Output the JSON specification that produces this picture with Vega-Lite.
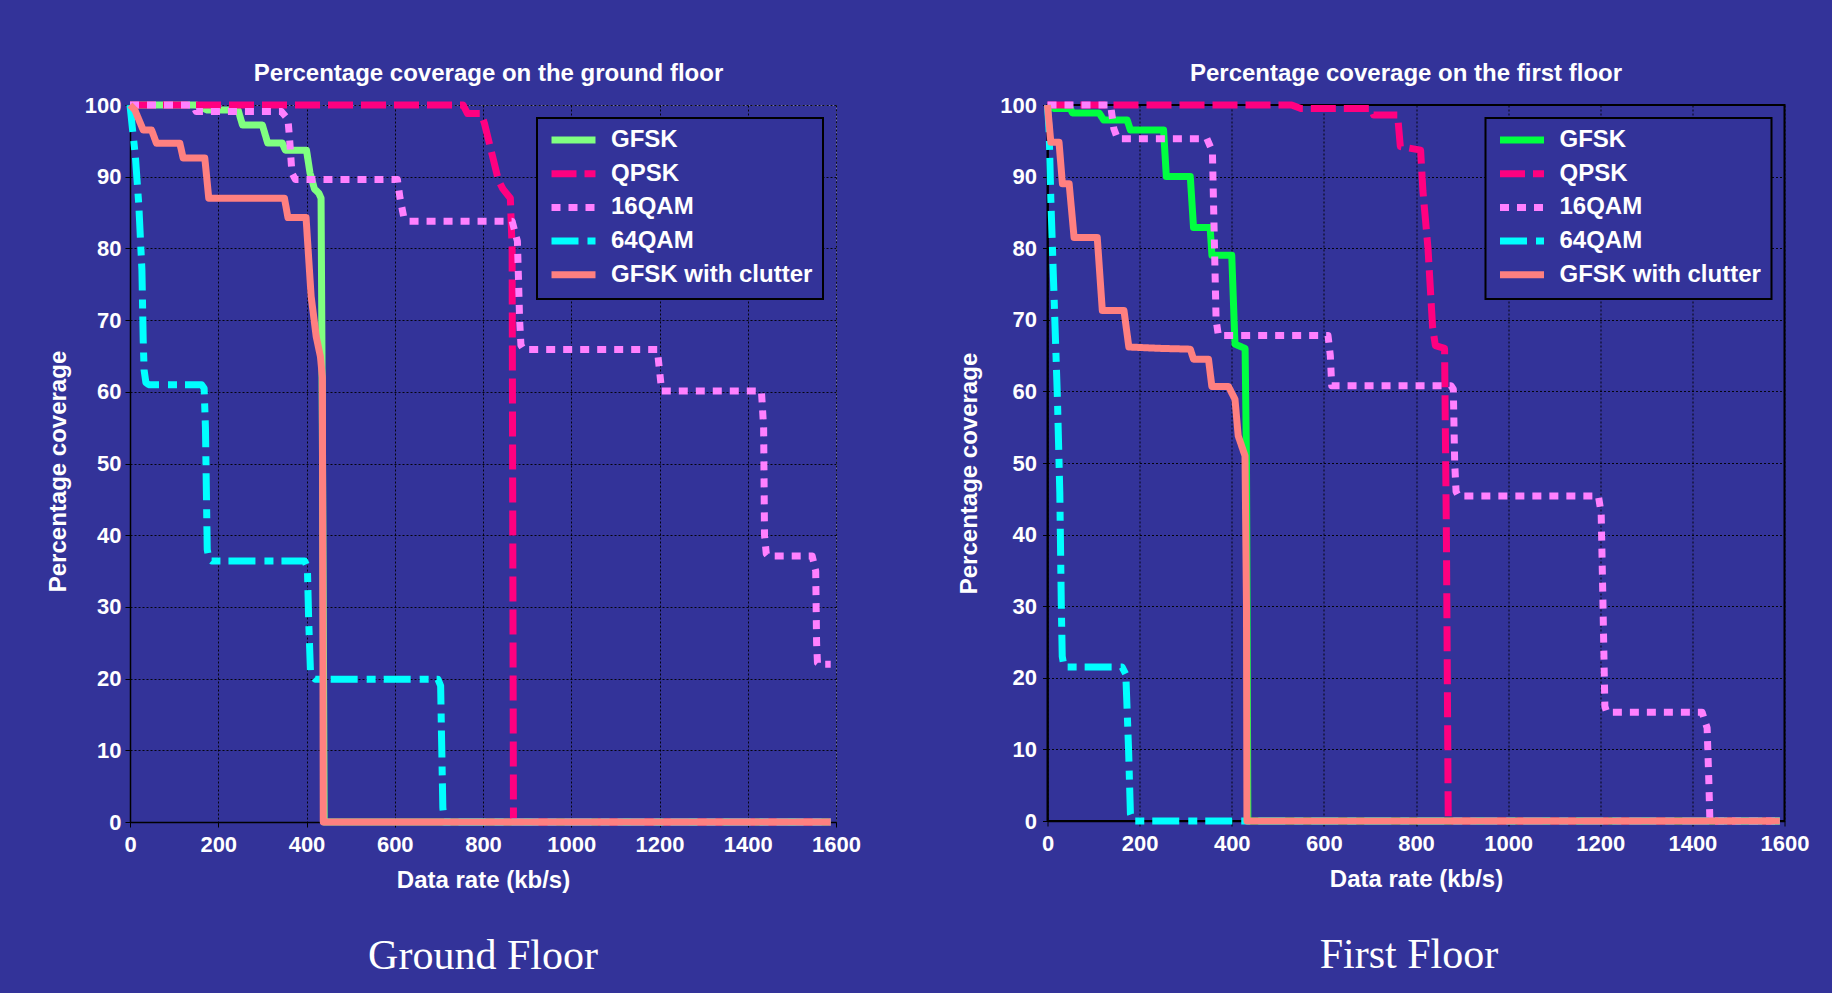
{
  "$schema": "https://vega.github.io/schema/vega-lite/v6.json",
  "background": "#333399",
  "padding": {"left": 45, "top": 60, "right": 25, "bottom": 20},
  "spacing": 95.5,
  "config": {
    "font": "Liberation Sans",
    "view": {"stroke": null},
    "axis": {
      "labelColor": "white", "labelFont": "Liberation Sans", "labelFontWeight": "bold", "labelFontSize": 22, "labelFlush": false,
      "titleColor": "white", "titleFont": "Liberation Sans", "titleFontWeight": "bold", "titleFontSize": 24,
      "gridColor": "black", "gridDash": [2, 2], "gridWidth": 1, "gridOpacity": 0.9,
      "domainColor": "black", "domainWidth": 1.5, "tickColor": "black", "tickSize": 5
    },
    "axisX": {"labelPadding": 7, "titlePadding": 13},
    "legend": {
      "orient": "top-right", "offset": 13, "fillColor": "#333399", "strokeColor": "black", "strokeWidth": 2,
      "padding": 10, "labelColor": "white", "labelFont": "Liberation Sans", "labelFontWeight": "bold", "labelFontSize": 24,
      "labelLimit": 400,
      "symbolType": "M-4.4,0H4.4", "symbolSize": 100, "symbolStrokeWidth": 7, "symbolOffset": 14.5,
      "rowPadding": 5.7, "labelOffset": 25.5
    },
    "title": {"color": "white", "font": "Liberation Sans", "fontSize": 24, "fontWeight": "bold"}
  },
  "resolve": {"scale": {"color": "independent", "strokeDash": "independent"}},
  "datasets": {
    "ground": [
      {"s": "GFSK", "x": 0, "y": 100}, {"s": "GFSK", "x": 150, "y": 100}, {"s": "GFSK", "x": 175, "y": 99.3}, {"s": "GFSK", "x": 245, "y": 99.3},
      {"s": "GFSK", "x": 255, "y": 97.2}, {"s": "GFSK", "x": 300, "y": 97.2}, {"s": "GFSK", "x": 312, "y": 94.7}, {"s": "GFSK", "x": 345, "y": 94.7},
      {"s": "GFSK", "x": 352, "y": 93.7}, {"s": "GFSK", "x": 400, "y": 93.7}, {"s": "GFSK", "x": 408, "y": 90.5}, {"s": "GFSK", "x": 418, "y": 88.3},
      {"s": "GFSK", "x": 428, "y": 87.7}, {"s": "GFSK", "x": 433, "y": 87}, {"s": "GFSK", "x": 435, "y": 66}, {"s": "GFSK", "x": 438, "y": 30},
      {"s": "GFSK", "x": 440, "y": 0}, {"s": "GFSK", "x": 1588, "y": 0},
      {"s": "QPSK", "x": 0, "y": 100}, {"s": "QPSK", "x": 755, "y": 100}, {"s": "QPSK", "x": 765, "y": 98.8}, {"s": "QPSK", "x": 795, "y": 98.8},
      {"s": "QPSK", "x": 803, "y": 97.5}, {"s": "QPSK", "x": 835, "y": 89.5}, {"s": "QPSK", "x": 845, "y": 88.3}, {"s": "QPSK", "x": 862, "y": 87},
      {"s": "QPSK", "x": 866, "y": 80}, {"s": "QPSK", "x": 869, "y": 0}, {"s": "QPSK", "x": 1588, "y": 0},
      {"s": "16QAM", "x": 0, "y": 100}, {"s": "16QAM", "x": 143, "y": 100}, {"s": "16QAM", "x": 150, "y": 99.1}, {"s": "16QAM", "x": 343, "y": 99.1},
      {"s": "16QAM", "x": 358, "y": 98}, {"s": "16QAM", "x": 362, "y": 95}, {"s": "16QAM", "x": 367, "y": 90.5}, {"s": "16QAM", "x": 375, "y": 89.6},
      {"s": "16QAM", "x": 606, "y": 89.6}, {"s": "16QAM", "x": 612, "y": 87}, {"s": "16QAM", "x": 620, "y": 84.5}, {"s": "16QAM", "x": 632, "y": 83.8},
      {"s": "16QAM", "x": 866, "y": 83.8}, {"s": "16QAM", "x": 878, "y": 81}, {"s": "16QAM", "x": 883, "y": 70}, {"s": "16QAM", "x": 886, "y": 66.5},
      {"s": "16QAM", "x": 892, "y": 65.9}, {"s": "16QAM", "x": 1195, "y": 65.9}, {"s": "16QAM", "x": 1200, "y": 63}, {"s": "16QAM", "x": 1205, "y": 60.1},
      {"s": "16QAM", "x": 1431, "y": 60.1}, {"s": "16QAM", "x": 1436, "y": 55}, {"s": "16QAM", "x": 1438, "y": 40}, {"s": "16QAM", "x": 1442, "y": 37.4},
      {"s": "16QAM", "x": 1446, "y": 37.1}, {"s": "16QAM", "x": 1546, "y": 37.1}, {"s": "16QAM", "x": 1554, "y": 35}, {"s": "16QAM", "x": 1556, "y": 25},
      {"s": "16QAM", "x": 1558, "y": 22.2}, {"s": "16QAM", "x": 1562, "y": 22}, {"s": "16QAM", "x": 1588, "y": 22},
      {"s": "64QAM", "x": 0, "y": 100}, {"s": "64QAM", "x": 5, "y": 97}, {"s": "64QAM", "x": 12, "y": 93}, {"s": "64QAM", "x": 20, "y": 86},
      {"s": "64QAM", "x": 27, "y": 77}, {"s": "64QAM", "x": 30, "y": 67}, {"s": "64QAM", "x": 32, "y": 63}, {"s": "64QAM", "x": 36, "y": 61.3},
      {"s": "64QAM", "x": 42, "y": 61}, {"s": "64QAM", "x": 162, "y": 61}, {"s": "64QAM", "x": 168, "y": 60.5}, {"s": "64QAM", "x": 171, "y": 55},
      {"s": "64QAM", "x": 175, "y": 38}, {"s": "64QAM", "x": 179, "y": 36.7}, {"s": "64QAM", "x": 185, "y": 36.4}, {"s": "64QAM", "x": 396, "y": 36.4},
      {"s": "64QAM", "x": 402, "y": 35.5}, {"s": "64QAM", "x": 405, "y": 28}, {"s": "64QAM", "x": 409, "y": 21}, {"s": "64QAM", "x": 415, "y": 20.2},
      {"s": "64QAM", "x": 420, "y": 19.9}, {"s": "64QAM", "x": 698, "y": 19.9}, {"s": "64QAM", "x": 704, "y": 19}, {"s": "64QAM", "x": 706, "y": 12},
      {"s": "64QAM", "x": 709, "y": 2}, {"s": "64QAM", "x": 712, "y": 0}, {"s": "64QAM", "x": 1588, "y": 0},
      {"s": "GFSK with clutter", "x": 0, "y": 100}, {"s": "GFSK with clutter", "x": 11, "y": 99.3}, {"s": "GFSK with clutter", "x": 30, "y": 96.5},
      {"s": "GFSK with clutter", "x": 49, "y": 96.5}, {"s": "GFSK with clutter", "x": 60, "y": 94.65}, {"s": "GFSK with clutter", "x": 113, "y": 94.65},
      {"s": "GFSK with clutter", "x": 120.5, "y": 92.6}, {"s": "GFSK with clutter", "x": 169.5, "y": 92.6}, {"s": "GFSK with clutter", "x": 178.5, "y": 87},
      {"s": "GFSK with clutter", "x": 350, "y": 87}, {"s": "GFSK with clutter", "x": 358, "y": 84.3}, {"s": "GFSK with clutter", "x": 399, "y": 84.3},
      {"s": "GFSK with clutter", "x": 410.5, "y": 73.3}, {"s": "GFSK with clutter", "x": 422, "y": 67.7}, {"s": "GFSK with clutter", "x": 431.6, "y": 64.9},
      {"s": "GFSK with clutter", "x": 436, "y": 62}, {"s": "GFSK with clutter", "x": 437, "y": 30}, {"s": "GFSK with clutter", "x": 438, "y": 0},
      {"s": "GFSK with clutter", "x": 1588, "y": 0}
    ],
    "first": [
      {"s": "GFSK", "x": 0, "y": 100}, {"s": "GFSK", "x": 15, "y": 99.5}, {"s": "GFSK", "x": 50, "y": 99.5}, {"s": "GFSK", "x": 54, "y": 98.9},
      {"s": "GFSK", "x": 112, "y": 98.9}, {"s": "GFSK", "x": 122, "y": 97.9}, {"s": "GFSK", "x": 173, "y": 97.9}, {"s": "GFSK", "x": 180, "y": 96.5},
      {"s": "GFSK", "x": 252, "y": 96.5}, {"s": "GFSK", "x": 258, "y": 90}, {"s": "GFSK", "x": 310, "y": 90}, {"s": "GFSK", "x": 317, "y": 82.9},
      {"s": "GFSK", "x": 353, "y": 82.9}, {"s": "GFSK", "x": 357, "y": 79}, {"s": "GFSK", "x": 400, "y": 79}, {"s": "GFSK", "x": 407, "y": 66.6},
      {"s": "GFSK", "x": 429, "y": 66}, {"s": "GFSK", "x": 432, "y": 50}, {"s": "GFSK", "x": 435, "y": 0}, {"s": "GFSK", "x": 1590, "y": 0},
      {"s": "QPSK", "x": 0, "y": 100}, {"s": "QPSK", "x": 530, "y": 100}, {"s": "QPSK", "x": 550, "y": 99.5}, {"s": "QPSK", "x": 703, "y": 99.5},
      {"s": "QPSK", "x": 708, "y": 98.6}, {"s": "QPSK", "x": 760, "y": 98.6}, {"s": "QPSK", "x": 766, "y": 94.2}, {"s": "QPSK", "x": 810, "y": 93.7},
      {"s": "QPSK", "x": 815, "y": 88}, {"s": "QPSK", "x": 826, "y": 80}, {"s": "QPSK", "x": 836, "y": 69}, {"s": "QPSK", "x": 842, "y": 66.4},
      {"s": "QPSK", "x": 862, "y": 66}, {"s": "QPSK", "x": 866, "y": 40}, {"s": "QPSK", "x": 870, "y": 0}, {"s": "QPSK", "x": 1590, "y": 0},
      {"s": "16QAM", "x": 0, "y": 100}, {"s": "16QAM", "x": 137, "y": 100}, {"s": "16QAM", "x": 144, "y": 96.7}, {"s": "16QAM", "x": 152, "y": 95.3},
      {"s": "16QAM", "x": 346, "y": 95.3}, {"s": "16QAM", "x": 358, "y": 93.5}, {"s": "16QAM", "x": 366, "y": 70}, {"s": "16QAM", "x": 371, "y": 67.8},
      {"s": "16QAM", "x": 609, "y": 67.8}, {"s": "16QAM", "x": 614, "y": 65}, {"s": "16QAM", "x": 617, "y": 60.8}, {"s": "16QAM", "x": 876, "y": 60.8},
      {"s": "16QAM", "x": 881, "y": 60.3}, {"s": "16QAM", "x": 884, "y": 50}, {"s": "16QAM", "x": 887, "y": 46}, {"s": "16QAM", "x": 892, "y": 45.4},
      {"s": "16QAM", "x": 1196, "y": 45.4}, {"s": "16QAM", "x": 1202, "y": 43}, {"s": "16QAM", "x": 1206, "y": 30}, {"s": "16QAM", "x": 1210, "y": 16},
      {"s": "16QAM", "x": 1214, "y": 15.2}, {"s": "16QAM", "x": 1421, "y": 15.2}, {"s": "16QAM", "x": 1432, "y": 13}, {"s": "16QAM", "x": 1436, "y": 5},
      {"s": "16QAM", "x": 1438, "y": 0}, {"s": "16QAM", "x": 1590, "y": 0},
      {"s": "64QAM", "x": 0, "y": 100}, {"s": "64QAM", "x": 3.6, "y": 96.2}, {"s": "64QAM", "x": 7.2, "y": 86.9}, {"s": "64QAM", "x": 14.4, "y": 72.9},
      {"s": "64QAM", "x": 21.6, "y": 58.9}, {"s": "64QAM", "x": 26.7, "y": 45.9}, {"s": "64QAM", "x": 30, "y": 30}, {"s": "64QAM", "x": 32, "y": 23},
      {"s": "64QAM", "x": 36, "y": 21.5}, {"s": "64QAM", "x": 162, "y": 21.5}, {"s": "64QAM", "x": 170, "y": 20.5}, {"s": "64QAM", "x": 176, "y": 10},
      {"s": "64QAM", "x": 180, "y": 1}, {"s": "64QAM", "x": 186, "y": 0}, {"s": "64QAM", "x": 1590, "y": 0},
      {"s": "GFSK with clutter", "x": 0, "y": 100}, {"s": "GFSK with clutter", "x": 7.2, "y": 94.8}, {"s": "GFSK with clutter", "x": 25, "y": 94.8},
      {"s": "GFSK with clutter", "x": 32.4, "y": 89}, {"s": "GFSK with clutter", "x": 47, "y": 89}, {"s": "GFSK with clutter", "x": 57.7, "y": 81.5},
      {"s": "GFSK with clutter", "x": 108, "y": 81.5}, {"s": "GFSK with clutter", "x": 119, "y": 71.3}, {"s": "GFSK with clutter", "x": 166, "y": 71.3},
      {"s": "GFSK with clutter", "x": 176.6, "y": 66.2}, {"s": "GFSK with clutter", "x": 248.6, "y": 66}, {"s": "GFSK with clutter", "x": 310, "y": 65.9},
      {"s": "GFSK with clutter", "x": 317, "y": 64.5}, {"s": "GFSK with clutter", "x": 349.5, "y": 64.5}, {"s": "GFSK with clutter", "x": 356.8, "y": 60.7},
      {"s": "GFSK with clutter", "x": 392.8, "y": 60.7}, {"s": "GFSK with clutter", "x": 407, "y": 58.9}, {"s": "GFSK with clutter", "x": 414, "y": 53.8},
      {"s": "GFSK with clutter", "x": 428.8, "y": 51}, {"s": "GFSK with clutter", "x": 432, "y": 30}, {"s": "GFSK with clutter", "x": 433, "y": 0},
      {"s": "GFSK with clutter", "x": 1590, "y": 0}
    ]
  },
  "hconcat": [
    {
      "title": {"text": "Ground Floor", "orient": "bottom", "font": "Liberation Serif", "fontSize": 42, "fontWeight": "normal", "color": "white", "offset": 44, "frame": "group", "anchor": "middle"},
      "width": 706, "height": 717,
      "data": {"name": "ground"},
      "view": {"stroke": "#b8b8b8", "strokeDash": [1, 2], "strokeWidth": 1},
      "resolve": {"axis": {"x": "independent"}},
      "layer": [
        {
          "mark": {"type": "line", "strokeWidth": 7, "strokeCap": "butt", "strokeJoin": "round"},
          "encoding": {
            "x": {"field": "x", "type": "quantitative", "scale": {"domain": [0, 1600], "nice": false},
                  "axis": {"orient": "bottom", "values": [0, 200, 400, 600, 800, 1000, 1200, 1400, 1600], "format": "d", "title": "Data rate (kb/s)"}},
            "y": {"field": "y", "type": "quantitative", "scale": {"domain": [0, 100], "nice": false},
                  "axis": {"values": [0, 10, 20, 30, 40, 50, 60, 70, 80, 90, 100], "title": "Percentage coverage", "labelPadding": 4, "titlePadding": 14, "titleY": 366}},
            "color": {"field": "s", "type": "nominal",
                      "scale": {"domain": ["GFSK", "QPSK", "16QAM", "64QAM", "GFSK with clutter"], "range": ["#80ff80", "#ff0080", "#ff80ff", "#00ffff", "#ff8080"]},
                      "legend": {"title": null}},
            "strokeDash": {"field": "s", "type": "nominal",
                      "scale": {"domain": ["GFSK", "QPSK", "16QAM", "64QAM", "GFSK with clutter"], "range": [[1, 0], [25, 8], [9, 8], [27, 9, 9, 8], [1, 0]]},
                      "legend": {"title": null}},
            "order": {"value": null}
          }
        },
        {
          "mark": {"type": "line", "opacity": 0},
          "encoding": {
            "x": {"field": "x", "type": "quantitative", "scale": {"domain": [0, 1600], "nice": false},
                  "axis": {"orient": "top", "title": "Percentage coverage on the ground floor", "labels": false, "ticks": false, "domain": false, "grid": false, "titlePadding": 20, "titleX": 358}},
            "y": {"field": "y", "type": "quantitative"}
          }
        }
      ]
    },
    {
      "title": {"text": "First Floor", "orient": "bottom", "font": "Liberation Serif", "fontSize": 42, "fontWeight": "normal", "color": "white", "offset": 44, "frame": "group", "anchor": "middle", "dx": -7},
      "width": 737, "height": 716,
      "data": {"name": "first"},
      "view": {"stroke": "black", "strokeWidth": 2},
      "resolve": {"axis": {"x": "independent"}},
      "layer": [
        {
          "mark": {"type": "line", "strokeWidth": 7, "strokeCap": "butt", "strokeJoin": "round"},
          "encoding": {
            "x": {"field": "x", "type": "quantitative", "scale": {"domain": [0, 1600], "nice": false},
                  "axis": {"orient": "bottom", "values": [0, 200, 400, 600, 800, 1000, 1200, 1400, 1600], "format": "d", "title": "Data rate (kb/s)"}},
            "y": {"field": "y", "type": "quantitative", "scale": {"domain": [0, 100], "nice": false},
                  "axis": {"values": [0, 10, 20, 30, 40, 50, 60, 70, 80, 90, 100], "title": "Percentage coverage", "labelPadding": 6, "titlePadding": 18, "titleY": 368}},
            "color": {"field": "s", "type": "nominal",
                      "scale": {"domain": ["GFSK", "QPSK", "16QAM", "64QAM", "GFSK with clutter"], "range": ["#00ff40", "#ff0080", "#ff80ff", "#00ffff", "#ff8080"]},
                      "legend": {"title": null}},
            "strokeDash": {"field": "s", "type": "nominal",
                      "scale": {"domain": ["GFSK", "QPSK", "16QAM", "64QAM", "GFSK with clutter"], "range": [[1, 0], [25, 8], [9, 8], [27, 9, 9, 8], [1, 0]]},
                      "legend": {"title": null}},
            "order": {"value": null}
          }
        },
        {
          "mark": {"type": "line", "opacity": 0},
          "encoding": {
            "x": {"field": "x", "type": "quantitative", "scale": {"domain": [0, 1600], "nice": false},
                  "axis": {"orient": "top", "title": "Percentage coverage on the first floor", "labels": false, "ticks": false, "domain": false, "grid": false, "titlePadding": 20, "titleX": 358}},
            "y": {"field": "y", "type": "quantitative"}
          }
        }
      ]
    }
  ]
}
